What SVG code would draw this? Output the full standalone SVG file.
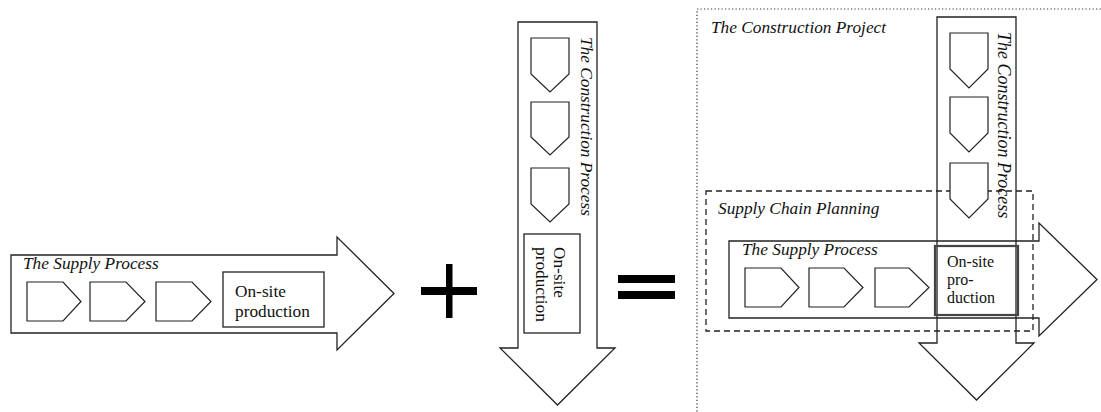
<svg xmlns="http://www.w3.org/2000/svg" width="1101" height="412" viewBox="0 0 1101 412">
<style>
.ln{fill:none;stroke:#222;stroke-width:1.3}
.pt{fill:#fff;stroke:#222;stroke-width:1.2}
.bx{fill:#fff;stroke:#222;stroke-width:1.3}
.it{font-family:"Liberation Serif","Times New Roman",serif;font-style:italic;font-size:17.3px;fill:#111}
.rg{font-family:"Liberation Serif","Times New Roman",serif;font-size:17.3px;fill:#111}
.op{fill:#000}
</style>
<rect width="1101" height="412" fill="#fff"/>
<g id="supply-process-left">
<path class="ln" d="M11,255 H337 V237 L394,293.5 L337,350 V333 H11 Z"/>
<text class="it" x="23" y="269">The Supply Process</text>
<path class="pt" d="M27,282 H63 L81,301.5 L63,321 H27 Z"/>
<path class="pt" d="M90,282 H126 L145,301.5 L126,321 H90 Z"/>
<path class="pt" d="M156,282 H192 L211,301.5 L192,321 H156 Z"/>
<rect class="bx" x="223" y="272" width="101" height="55"/>
<text class="rg" x="235" y="297">On-site</text>
<text class="rg" x="235" y="317">production</text>
</g>
<g id="plus">
<rect class="op" x="446" y="264" width="6.5" height="54"/>
<rect class="op" x="421" y="287" width="56" height="8"/>
</g>
<g id="construction-process-middle">
<path class="ln" d="M518,22 H597 V348 H615 L557.5,405 L500,348 H518 Z"/>
<text class="it" transform="translate(580.5,37) rotate(90)">The Construction Process</text>
<path class="pt" d="M531,38 H569 V74 L550,92 L531,74 Z"/>
<path class="pt" d="M531,102 H569 V137 L550,155 L531,137 Z"/>
<path class="pt" d="M531,168 H569 V204 L550,222 L531,204 Z"/>
<rect class="bx" x="524" y="234" width="56" height="99"/>
<text class="rg" transform="translate(554,247) rotate(90)">On-site<tspan x="0" dy="18">production</tspan></text>
</g>
<g id="equals">
<rect class="op" x="618" y="275" width="57" height="8"/>
<rect class="op" x="618" y="291" width="57" height="8"/>
</g>
<g id="construction-project">
<rect x="697" y="9" width="420" height="420" fill="none" stroke="#333" stroke-width="1.2" stroke-dasharray="1.2 2.3"/>
<text class="it" x="711" y="33">The Construction Project</text>
</g>
<g id="supply-chain-planning">
<rect x="706" y="191" width="327" height="140" fill="none" stroke="#222" stroke-width="1.3" stroke-dasharray="6 4"/>
<text class="it" x="718" y="214">Supply Chain Planning</text>
</g>
<g id="construction-process-right">
<path class="ln" d="M937,17 H1016 V343 H1034 L976.5,400 L919,343 H937 Z"/>
<text class="it" style="font-size:18px" transform="translate(998,32) rotate(90)">The Construction Process</text>
<path class="pt" d="M950,33 H988 V69 L969,88 L950,69 Z"/>
<path class="pt" d="M950,97 H988 V133 L969,152 L950,133 Z"/>
<path class="pt" d="M950,163 H988 V199 L969,218 L950,199 Z"/>
</g>
<g id="supply-process-right">
<path class="ln" d="M729,241 H1039 V223 L1097,279.5 L1039,336 V318 H729 Z"/>
<text class="it" x="742" y="255">The Supply Process</text>
<path class="pt" d="M745,268 H781 L799,287.5 L781,307 H745 Z"/>
<path class="pt" d="M809,268 H844 L863,287.5 L844,307 H809 Z"/>
<path class="pt" d="M875,268 H909 L929,287.5 L909,307 H875 Z"/>
</g>
<g id="on-site-production-right">
<rect x="935" y="246" width="83" height="69" fill="none" stroke="#444" stroke-width="2.2"/>
<text class="rg" style="font-size:16px" x="947" y="267">On-site</text>
<text class="rg" style="font-size:16px" x="947" y="285">pro-</text>
<text class="rg" style="font-size:16px" x="947" y="303">duction</text>
</g>
<g id="connectors"/>
</svg>
